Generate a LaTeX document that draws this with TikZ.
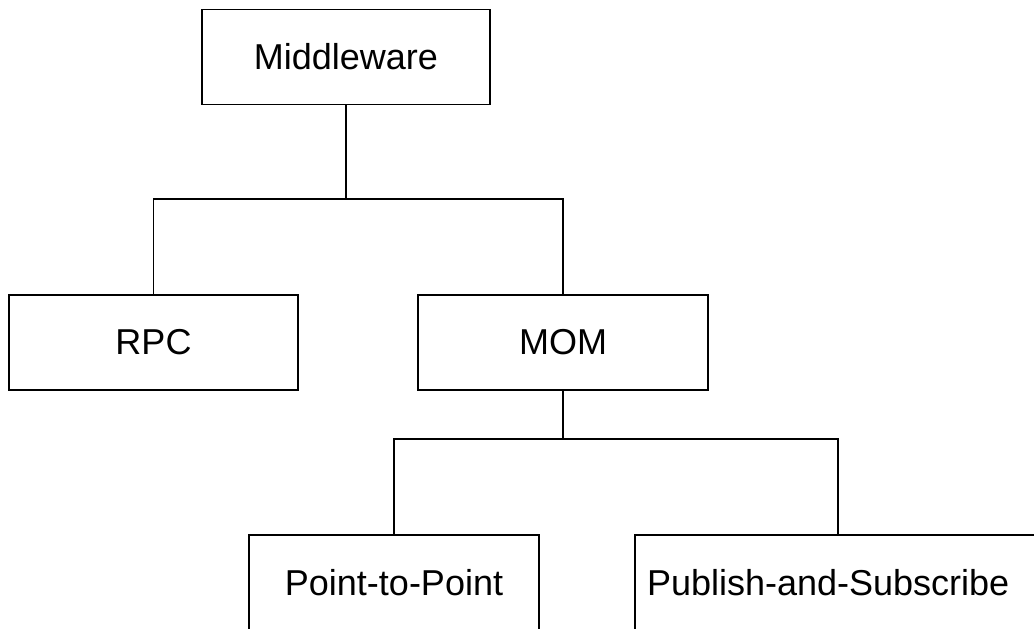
\documentclass[tikz,border=0pt]{standalone}
\usepackage{fontspec}
\setmainfont{Liberation Sans}
\usepackage{tikz}

\begin{document}
\begin{tikzpicture}[x=1pt,y=-1pt,line width=1.2pt,
    every node/.style={draw,minimum height=95pt,inner sep=0pt,
      font=\fontsize{36}{40}\selectfont}]
      \useasboundingbox (0,0) rectangle (1034,629);
      \clip (0,0) rectangle (1034,629);
      \node[minimum width=288pt] (mw) at (346,57) {Middleware};
      \node[minimum width=289pt] (rpc) at (153.5,342.5) {RPC};
      \node[minimum width=290pt] (mom) at (563,342.5) {MOM};
      \node[minimum width=290pt] (ptp) at (394,582.5) {Point-to-Point};
      \node[minimum width=406pt,text width=382pt,align=left,inner xsep=12pt]
        (pubsub) at (838,582.5) {Publish-and-Subscribe};
      \coordinate (split1) at (346,199);
      \coordinate (split2) at (563,439);
      \draw (mw.south) -- (split1);
      \draw (rpc.north) |- (split1) -| (mom.north);
      \draw (mom.south) -- (split2);
      \draw (ptp.north) |- (split2) -| (pubsub.north);
      \end{tikzpicture}
\end{document}
